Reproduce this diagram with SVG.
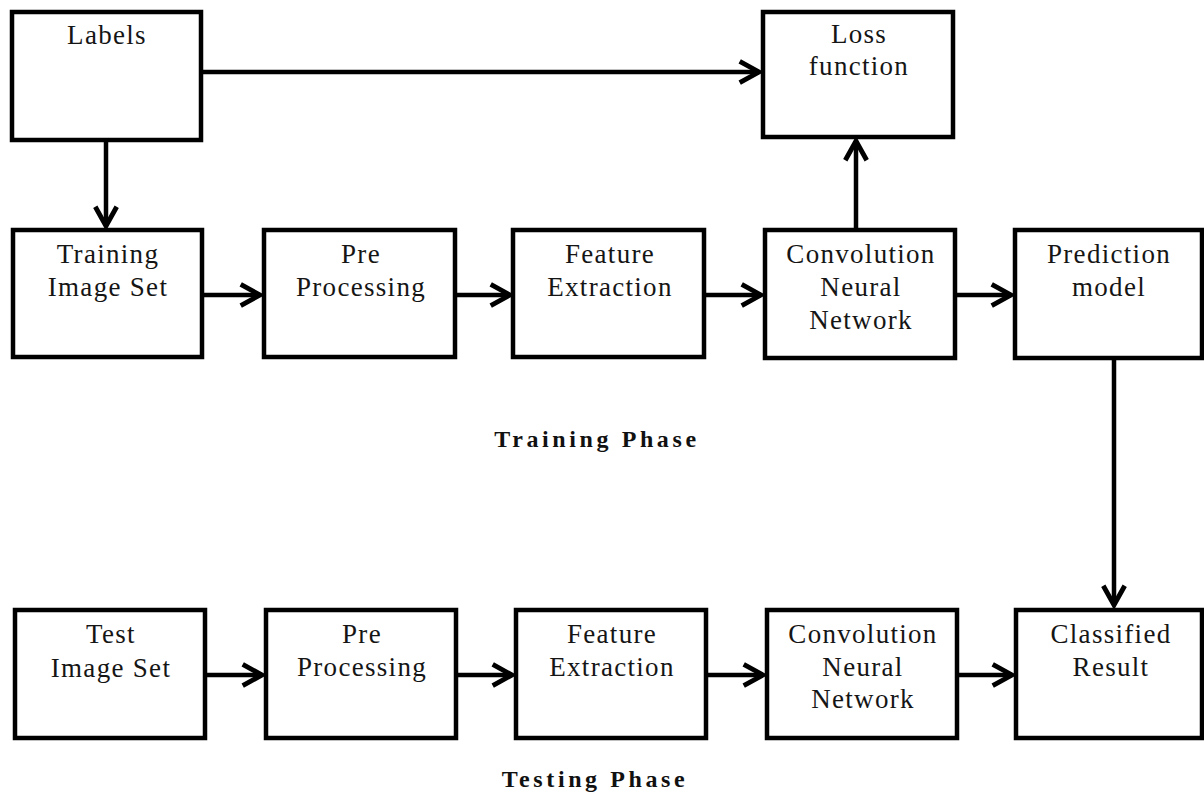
<svg xmlns="http://www.w3.org/2000/svg" width="1204" height="796" viewBox="0 0 1204 796">
<style>
.box{fill:#fff;stroke:#000;stroke-width:4.5}
.t{font-family:"Liberation Serif","Times New Roman",serif;font-size:27px;fill:#151515;text-anchor:middle;letter-spacing:1.3px}
.ph{font-family:"Liberation Serif","Times New Roman",serif;font-size:24px;font-weight:bold;fill:#111;text-anchor:middle;letter-spacing:3.6px}
.c{fill:none;stroke:#000;stroke-width:4.5}
</style>
<defs>
<marker id="ah" markerUnits="userSpaceOnUse" markerWidth="30" markerHeight="30" viewBox="-22 -14 26 28" refX="0" refY="0" orient="auto">
<path d="M-18,-10 L0,0 L-18,10" fill="none" stroke="#000" stroke-width="4.5" stroke-linejoin="miter"/>
</marker>
</defs>
<rect width="1204" height="796" fill="#fff"/>
<g id="connectors">
<line class="c" x1="201" y1="72" x2="759" y2="72" marker-end="url(#ah)"/>
<line class="c" x1="106" y1="140" x2="106" y2="226" marker-end="url(#ah)"/>
<line class="c" x1="856" y1="230" x2="856" y2="141" marker-end="url(#ah)"/>
<line class="c" x1="202" y1="295" x2="260" y2="295" marker-end="url(#ah)"/>
<line class="c" x1="455" y1="295" x2="510" y2="295" marker-end="url(#ah)"/>
<line class="c" x1="704" y1="295" x2="761" y2="295" marker-end="url(#ah)"/>
<line class="c" x1="955" y1="295" x2="1011" y2="295" marker-end="url(#ah)"/>
<line class="c" x1="1114" y1="358" x2="1114" y2="605" marker-end="url(#ah)"/>
<line class="c" x1="205" y1="675" x2="262" y2="675" marker-end="url(#ah)"/>
<line class="c" x1="456" y1="675" x2="512" y2="675" marker-end="url(#ah)"/>
<line class="c" x1="706" y1="675" x2="763" y2="675" marker-end="url(#ah)"/>
<line class="c" x1="957" y1="675" x2="1012" y2="675" marker-end="url(#ah)"/>
</g>
<g id="labels"><rect class="box" x="12" y="12" width="189" height="128"/><text class="t" x="107" y="44">Labels</text></g>
<g id="loss"><rect class="box" x="763" y="12" width="190" height="125"/><text class="t" x="859" y="43">Loss</text><text class="t" x="859" y="75">function</text></g>
<g id="train-set"><rect class="box" x="13" y="230" width="189" height="127"/><text class="t" x="108" y="263">Training</text><text class="t" x="108" y="296">Image Set</text></g>
<g id="train-pre"><rect class="box" x="264" y="230" width="191" height="127"/><text class="t" x="361" y="263">Pre</text><text class="t" x="361" y="296">Processing</text></g>
<g id="train-feat"><rect class="box" x="513" y="230" width="191" height="127"/><text class="t" x="610" y="263">Feature</text><text class="t" x="610" y="296">Extraction</text></g>
<g id="train-cnn"><rect class="box" x="765" y="230" width="190" height="128"/><text class="t" x="861" y="263">Convolution</text><text class="t" x="861" y="296">Neural</text><text class="t" x="861" y="329">Network</text></g>
<g id="prediction"><rect class="box" x="1015" y="230" width="187" height="128"/><text class="t" x="1109" y="263">Prediction</text><text class="t" x="1109" y="296">model</text></g>
<text class="ph" x="597" y="447">Training Phase</text>
<g id="test-set"><rect class="box" x="15" y="610" width="190" height="128"/><text class="t" x="111" y="643">Test</text><text class="t" x="111" y="677">Image Set</text></g>
<g id="test-pre"><rect class="box" x="266" y="610" width="190" height="128"/><text class="t" x="362" y="643">Pre</text><text class="t" x="362" y="676">Processing</text></g>
<g id="test-feat"><rect class="box" x="516" y="610" width="190" height="128"/><text class="t" x="612" y="643">Feature</text><text class="t" x="612" y="676">Extraction</text></g>
<g id="test-cnn"><rect class="box" x="767" y="610" width="190" height="128"/><text class="t" x="863" y="643">Convolution</text><text class="t" x="863" y="676">Neural</text><text class="t" x="863" y="708">Network</text></g>
<g id="classified"><rect class="box" x="1016" y="610" width="186" height="128"/><text class="t" x="1111" y="643">Classified</text><text class="t" x="1111" y="676">Result</text></g>
<text class="ph" x="595" y="787">Testing Phase</text>
</svg>
